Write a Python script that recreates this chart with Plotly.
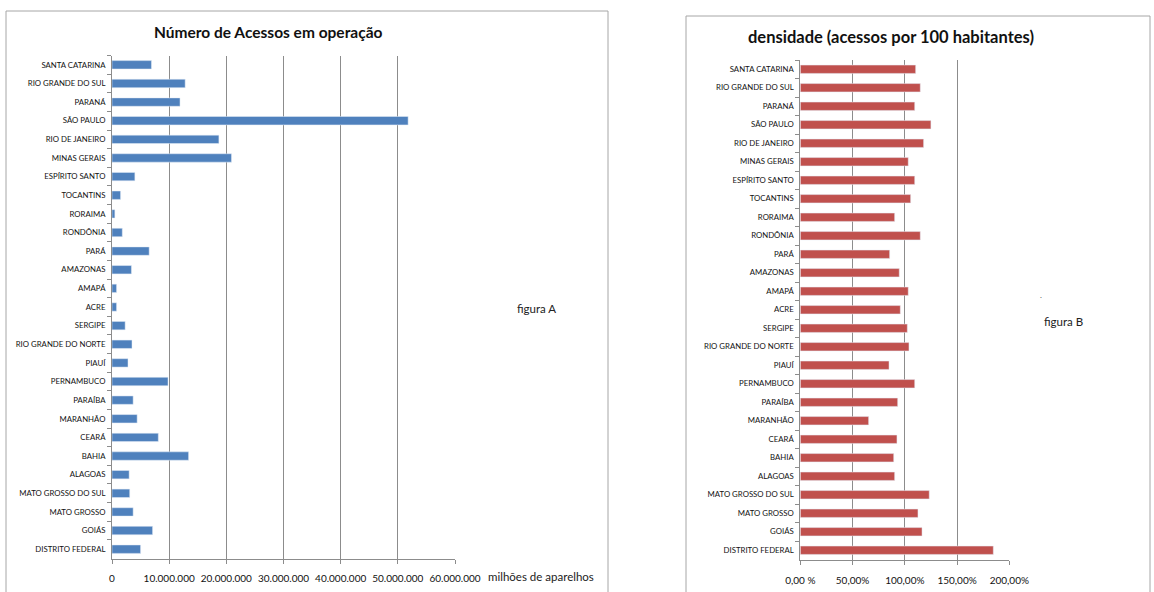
import plotly.graph_objects as go

estados = ["SANTA CATARINA", "RIO GRANDE DO SUL", "PARANÁ", "SÃO PAULO", "RIO DE JANEIRO",
           "MINAS GERAIS", "ESPÍRITO SANTO", "TOCANTINS", "RORAIMA", "RONDÔNIA", "PARÁ",
           "AMAZONAS", "AMAPÁ", "ACRE", "SERGIPE", "RIO GRANDE DO NORTE", "PIAUÍ",
           "PERNAMBUCO", "PARAÍBA", "MARANHÃO", "CEARÁ", "BAHIA", "ALAGOAS",
           "MATO GROSSO DO SUL", "MATO GROSSO", "GOIÁS", "DISTRITO FEDERAL"]

acessos = [6.9e6, 12.8e6, 11.9e6, 51.8e6, 18.7e6, 20.9e6, 4.0e6, 1.5e6, 0.5e6, 1.8e6, 6.5e6,
           3.4e6, 0.8e6, 0.8e6, 2.3e6, 3.5e6, 2.8e6, 9.8e6, 3.7e6, 4.4e6, 8.1e6, 13.4e6, 3.0e6,
           3.1e6, 3.7e6, 7.1e6, 5.0e6]

densidade = [110.4, 114.8, 109.5, 125.0, 118.0, 103.3, 109.5, 105.6, 90.3, 114.8, 85.5,
             94.7, 103.3, 95.7, 102.4, 104.0, 84.9, 109.5, 93.2, 65.4, 92.5, 89.4, 90.3,
             123.4, 112.6, 116.5, 184.7]

ticks_a = [0, 10e6, 20e6, 30e6, 40e6, 50e6, 60e6]
ticklabels_a = ["0", "10.000.000", "20.000.000", "30.000.000", "40.000.000", "50.000.000", "60.000.000"]
ticks_b = [0, 50, 100, 150, 200]
ticklabels_b = ["0,00 %", "50,00%", "100,00%", "150,00%", "200,00%"]

W, H = 1154, 592
def px(x): return x / W
def py(y): return 1 - y / H

FONT = "Lato, Liberation Sans, sans-serif"
GRID = "#8C8C8C"

fig = go.Figure()
fig.add_trace(go.Bar(y=estados, x=acessos, orientation="h", marker_color="#4F81BD",
                     xaxis="x", yaxis="y", showlegend=False))
fig.add_trace(go.Bar(y=estados, x=densidade, orientation="h", marker_color="#C0504D",
                     xaxis="x2", yaxis="y2", showlegend=False))

common_y = dict(type="category", categoryorder="array", categoryarray=estados,
                autorange="reversed", showline=True, linecolor=GRID, linewidth=1,
                ticks="outside", ticklen=4, tickcolor=GRID, tickson="boundaries",
                showgrid=False, tickfont=dict(family=FONT, size=7.8, color="#111"),
                ticklabelstandoff=4, automargin=False)

common_x = dict(showgrid=True, gridcolor=GRID, gridwidth=1, showline=True, linecolor=GRID,
                ticks="outside", ticklen=4, tickcolor=GRID, zeroline=False, automargin=False,
                tickfont=dict(family=FONT, size=10, color="#111"))

fig.update_layout(
    width=W, height=H, margin=dict(l=0, r=0, t=0, b=0, autoexpand=False),
    paper_bgcolor="white", plot_bgcolor="white", bargap=0.55,
    xaxis=dict(domain=[px(112), px(455)], range=[0, 60e6], tickvals=ticks_a, ticktext=ticklabels_a,
               anchor="y", ticklabelstandoff=6, **common_x),
    yaxis=dict(domain=[py(558.5), py(55.5)], anchor="x", **common_y),
    xaxis2=dict(domain=[px(800.3), px(1009.3)], range=[0, 200], tickvals=ticks_b, ticktext=ticklabels_b,
                anchor="y2", ticklabelstandoff=7, **common_x),
    yaxis2=dict(domain=[py(559.5), py(60)], anchor="x2", **common_y),
    shapes=[
        dict(type="rect", xref="paper", yref="paper", x0=px(6), x1=px(608), y0=-0.05, y1=py(11),
             line=dict(color="#A6A6A6", width=1), layer="below"),
        dict(type="rect", xref="paper", yref="paper", x0=px(686), x1=px(1150), y0=-0.05, y1=py(16),
             line=dict(color="#A6A6A6", width=1), layer="below"),
    ],
    annotations=[
        dict(text="<b>Número de Acessos em operação</b>", x=px(268), y=py(32), xref="paper", yref="paper",
             showarrow=False, font=dict(family=FONT, size=15.5, color="#111"), xanchor="center", yanchor="middle"),
        dict(text="<b>densidade (acessos por 100 habitantes)</b>", x=px(891), y=py(37), xref="paper", yref="paper",
             showarrow=False, font=dict(family=FONT, size=16.5, color="#111"), xanchor="center", yanchor="middle"),
        dict(text="milhões de aparelhos", x=px(486), y=py(576), xref="paper", yref="paper",
             showarrow=False, font=dict(family=FONT, size=11.5, color="#222"), xanchor="left", yanchor="middle"),
        dict(text="figura A", x=px(536), y=py(308), xref="paper", yref="paper",
             showarrow=False, font=dict(family=FONT, size=11.5, color="#222"), xanchor="center", yanchor="middle"),
        dict(text="figura B", x=px(1063), y=py(321), xref="paper", yref="paper",
             showarrow=False, font=dict(family=FONT, size=11.5, color="#222"), xanchor="center", yanchor="middle"),
        dict(text=".", x=px(1041), y=py(295), xref="paper", yref="paper",
             showarrow=False, font=dict(family=FONT, size=8, color="#555"), xanchor="center", yanchor="middle"),
    ],
)

fig.write_html("out.html")
